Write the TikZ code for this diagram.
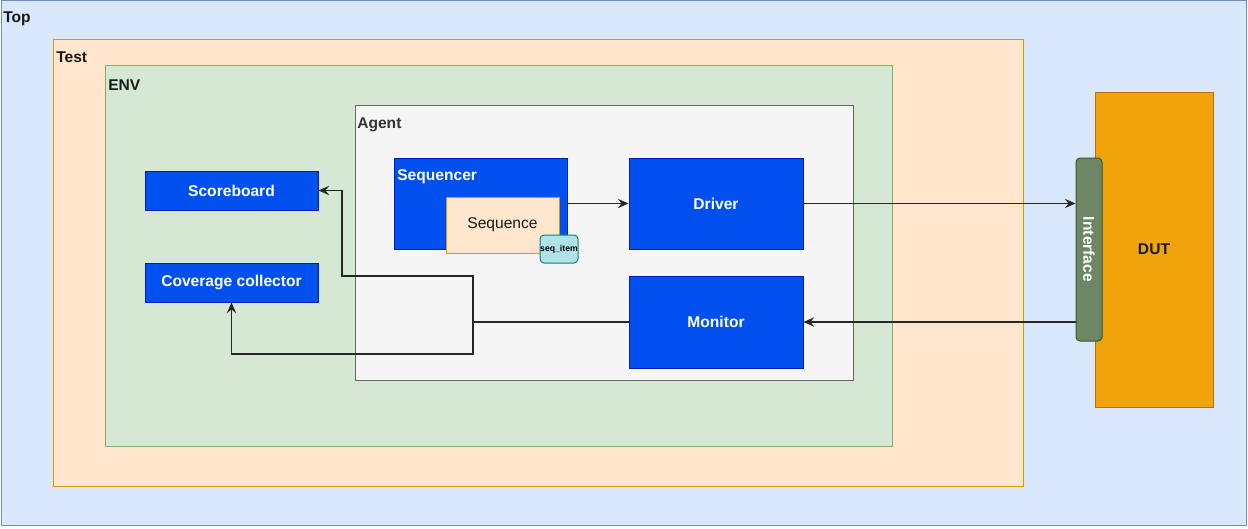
\documentclass[tikz,border=0pt]{standalone}
\usepackage{fontspec}
\setmainfont{Liberation Sans}
\usetikzlibrary{fit,arrows.meta}
\definecolor{topfill}{HTML}{DAE8FC}\definecolor{topline}{HTML}{6C8EBF}
\definecolor{testfill}{HTML}{FFE6CC}\definecolor{testline}{HTML}{D79B00}
\definecolor{envfill}{HTML}{D5E8D4}\definecolor{envline}{HTML}{82B366}
\definecolor{agentfill}{HTML}{F5F5F5}\definecolor{agentline}{HTML}{666666}
\definecolor{bluefill}{HTML}{0050EF}\definecolor{blueline}{HTML}{001DBC}
\definecolor{itemfill}{HTML}{B0E3E6}\definecolor{itemline}{HTML}{0E8088}
\definecolor{dutfill}{HTML}{F0A30A}\definecolor{dutline}{HTML}{BD7000}
\definecolor{intffill}{HTML}{6D8764}\definecolor{intfline}{HTML}{3A5431}
\definecolor{labtext}{HTML}{1A1A1A}
\definecolor{agenttext}{HTML}{333333}
\begin{document}
\begin{tikzpicture}[x=0.75pt,y=-0.75pt,
  every node/.style={font=\fontsize{11.7}{14}\selectfont},
  frame/.style={draw, line width=0.75pt, inner sep=0pt},
  sz/.style 2 args={minimum width=#1*0.75pt, minimum height=#2*0.75pt},
  blk/.style={frame, fill=bluefill, draw=blueline, text=white,
    font=\fontsize{11.7}{14}\selectfont\bfseries},
  lab/.style={anchor=base west, inner sep=0pt, text=labtext,
    font=\fontsize{11.7}{14}\selectfont\bfseries},
  arr/.style={draw=black!85, line width=0.9pt,
    -{Stealth[length=8pt,width=7pt,inset=2.8pt]}},
  conn/.style={draw=black!85, line width=0.9pt}
]
\useasboundingbox (0,0) rectangle (1248,528);
% containers
\node[frame, fill=topfill, draw=topline, fit={(1,1)(1246,525)}] (top) {};
\node[lab] (toplab) at (3,23) {Top};
\node[frame, fill=testfill, draw=testline, fit={(53,40)(1023,486)}] (test) {};
\node[lab] (testlab) at (56,63) {Test};
\node[frame, fill=envfill, draw=envline, fit={(105,66)(892,446)}] (env) {};
\node[lab] (envlab) at (108,90) {ENV};
\node[frame, fill=agentfill, draw=agentline, fit={(355,105)(853,380)}] (agent) {};
\node[lab, text=agenttext] (agentlab) at (357,128) {Agent};
% sequencer
\node[blk, fit={(394,158)(567,249)}] (seqr) {};
\node[lab, text=white] (seqrlab) at (397,180) {Sequencer};
\node[frame, fill=testfill, draw=testline, text=labtext, sz={113}{56}] (seq) at (502.5,225) {Sequence};
\node[frame, fill=itemfill, draw=itemline, rounded corners=3pt, text=black,
  font=\fontsize{6.5}{8}\selectfont\bfseries, sz={38}{28}] (item) at (559,249) {seq\_item};
% driver / monitor
\node[blk, sz={174}{91}] (drv) at (716,203.5) {Driver};
\node[blk, sz={174}{92}] (mon) at (716,322) {Monitor};
% scoreboard / coverage
\node[blk, sz={173}{39}] (sb) at (231.5,190.5) {Scoreboard};
\node[blk, sz={173}{39}] (cov) at (231.5,282.5) {Coverage collector};
% DUT and interface
\node[frame, fill=dutfill, draw=dutline, text=labtext,
  font=\fontsize{11.7}{14}\selectfont\bfseries, sz={118}{315}] (dut) at (1154,249.5) {DUT};
\node[frame, fill=intffill, draw=intfline, rounded corners=3pt, sz={26}{183},
  label={[rotate=-90, text=white, font=\fontsize{11.7}{14}\selectfont\bfseries]center:Interface}] (intf) at (1089,249.5) {};
% connectors
\draw[arr] (seqr.east) -- (drv.west);
\draw[arr] (drv.east) -- (drv.east -| intf.west);
\draw[arr] (intf.west |- mon.east) -- (mon.east);
\coordinate (j) at (473,322);
\coordinate (k) at (342,276);
\coordinate (m) at (231.5,354);
\draw[conn] (mon.west) -- (j);
\draw[arr] (j) |- (k) |- (sb.east);
\draw[arr] (j) |- (m) -- (cov.south);
\end{tikzpicture}
\end{document}
